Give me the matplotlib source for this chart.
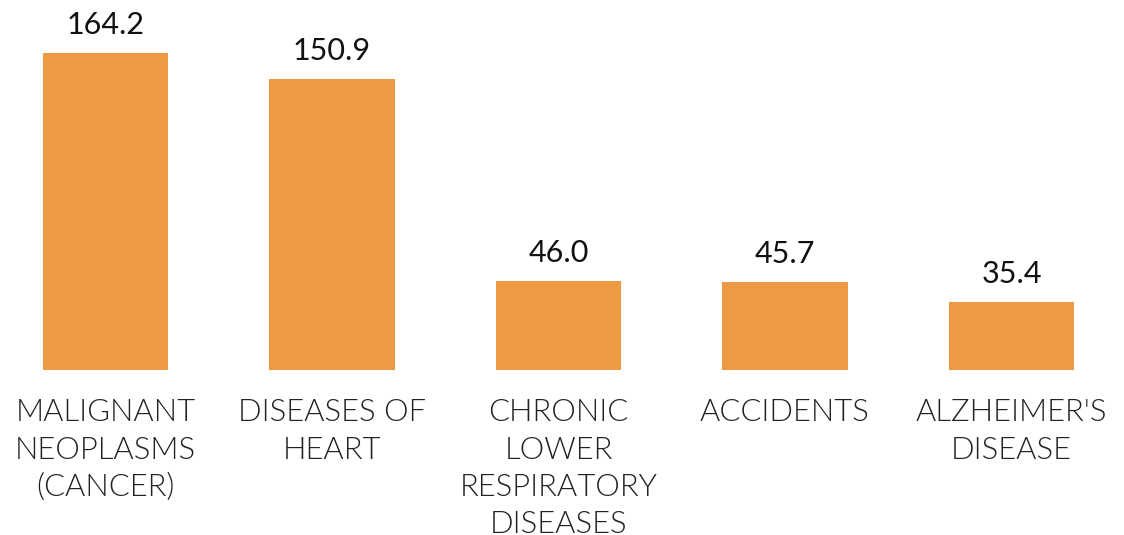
import matplotlib.pyplot as plt
from matplotlib import font_manager as fm

categories = [
    "MALIGNANT\nNEOPLASMS\n(CANCER)",
    "DISEASES OF\nHEART",
    "CHRONIC\nLOWER\nRESPIRATORY\nDISEASES",
    "ACCIDENTS",
    "ALZHEIMER'S\nDISEASE",
]
rates = [164.2, 150.9, 46.0, 45.7, 35.4]

bar_color = "#EE9A42"

# Lato Light for the category labels
light_path = [f.fname for f in fm.fontManager.ttflist if f.fname.endswith("Lato-Light.ttf")]
if light_path:
    label_font = fm.FontProperties(fname=light_path[0], size=22.3)
else:
    label_font = fm.FontProperties(family="Lato", weight=300, size=22.3)

fig = plt.figure(figsize=(11.24, 5.35), dpi=100)
ax = fig.add_axes([0, 0.3084, 1, 0.6916])

x = range(len(rates))
ax.bar(x, rates, width=0.552, color=bar_color)

for i, v in enumerate(rates):
    ax.annotate(f"{v:.1f}", (i, v), xytext=(0, 10), textcoords="offset points",
                ha="center", va="bottom", fontsize=22, family="Lato", color="#111111")
    ax.annotate(categories[i], (i, 0), xytext=(0, -20.5), textcoords="offset points",
                ha="center", va="top", fontproperties=label_font,
                color="#222222", linespacing=1.36)

ax.set_xlim(-0.4658, 4.4967)
ax.set_ylim(0, 191.65)
ax.axis("off")

fig.savefig("out.png", dpi=100)
